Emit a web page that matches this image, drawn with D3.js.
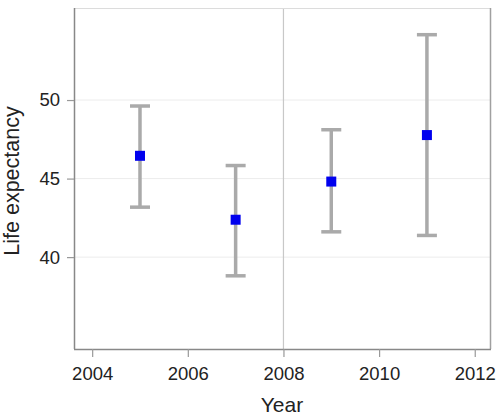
<!DOCTYPE html>
<html>
<head>
<meta charset="utf-8">
<script src="https://cdn.jsdelivr.net/npm/d3@7"></script>
<style>
  body { margin: 0; background: #fff; }
  text { font-family: "Liberation Sans", Arial, sans-serif; fill: #222; }
</style>
</head>
<body>
<div id="chart"></div>
<script>
// data
var years = [2005, 2007, 2009, 2011];
var means = [46.45, 42.38, 44.81, 47.77];
var lower = [43.18, 38.81, 41.61, 41.38];
var upper = [49.62, 45.83, 48.11, 54.16];
var xTicks = [2004, 2006, 2008, 2010, 2012];
var yTicks = [40, 45, 50];
var refYear = 2008;

var data = years.map(function(d, i) {
  return {year: d, mean: means[i], lo: lower[i], hi: upper[i]};
});

// set the dimensions of the canvas
var margin = {top: 8, right: 5, bottom: 67, left: 74},
    width = 496 - margin.left - margin.right,
    height = 416 - margin.top - margin.bottom;

var x = d3.scaleLinear().domain([2003.62, 2012.34]).range([0, width]);
var y = d3.scaleLinear().domain([34.15, 55.86]).range([height, 0]);

var svg = d3.select("#chart")
            .append("svg")
            .attr("width", 496)
            .attr("height", 416)
            .append("g")
            .attr("transform", "translate(" + margin.left + "," + margin.top + ")");

// faint horizontal grid
svg.selectAll(".grid")
   .data(yTicks)
   .enter()
   .append("line")
   .attr("x1", 0).attr("x2", width)
   .attr("y1", function(d) { return y(d); })
   .attr("y2", function(d) { return y(d); })
   .attr("stroke", "#ececec")
   .attr("stroke-width", 1);

// reference line at 2008
svg.append("line")
   .attr("x1", x(refYear)).attr("x2", x(refYear))
   .attr("y1", 0).attr("y2", height)
   .attr("stroke", "#c8c8c8")
   .attr("stroke-width", 1.2);

// frame: top and right
svg.append("line")
   .attr("x1", 0).attr("x2", width).attr("y1", 0.5).attr("y2", 0.5)
   .attr("stroke", "#dcdcdc");
svg.append("line")
   .attr("x1", width - 0.5).attr("x2", width - 0.5).attr("y1", 0).attr("y2", height)
   .attr("stroke", "#a0a0a0").attr("stroke-width", 1.5);

// x axis
var xAxis = svg.append("g")
   .attr("transform", "translate(0," + height + ")")
   .call(d3.axisBottom(x).tickValues(xTicks).tickFormat(d3.format("d")).tickSize(8).tickPadding(10));

// y axis
var yAxis = svg.append("g")
   .call(d3.axisLeft(y).tickValues(yTicks).tickSize(7).tickPadding(7));

[xAxis, yAxis].forEach(function(a) {
  a.select(".domain").attr("stroke", "#888").attr("stroke-width", 1.5);
  a.selectAll(".tick line").attr("stroke", "#999").attr("stroke-width", 1.2);
  a.selectAll(".tick text")
   .style("font-family", "'Liberation Sans', Arial, sans-serif")
   .style("font-size", "18.5px")
   .attr("fill", "#222");
});
xAxis.select(".domain").attr("d", "M0,0.5H" + width);
yAxis.select(".domain").attr("d", "M0.5,0V" + height);

// error bars
var capW = 10;
var bars = svg.selectAll(".err")
   .data(data)
   .enter()
   .append("g")
   .attr("class", "err")
   .attr("stroke", "#aaaaaa")
   .attr("stroke-width", 3.5);

bars.append("line")
    .attr("x1", function(d) { return x(d.year); })
    .attr("x2", function(d) { return x(d.year); })
    .attr("y1", function(d) { return y(d.lo); })
    .attr("y2", function(d) { return y(d.hi); });
bars.append("line")
    .attr("x1", function(d) { return x(d.year) - capW; })
    .attr("x2", function(d) { return x(d.year) + capW; })
    .attr("y1", function(d) { return y(d.hi); })
    .attr("y2", function(d) { return y(d.hi); });
bars.append("line")
    .attr("x1", function(d) { return x(d.year) - capW; })
    .attr("x2", function(d) { return x(d.year) + capW; })
    .attr("y1", function(d) { return y(d.lo); })
    .attr("y2", function(d) { return y(d.lo); });

// points
var sq = 10;
svg.selectAll(".pt")
   .data(data)
   .enter()
   .append("rect")
   .attr("class", "pt")
   .attr("x", function(d) { return x(d.year) - sq / 2; })
   .attr("y", function(d) { return y(d.mean) - sq / 2; })
   .attr("width", sq)
   .attr("height", sq)
   .attr("fill", "#0000ee");

// axis titles
svg.append("text")
   .attr("x", 282 - margin.left)
   .attr("y", 412 - margin.top)
   .attr("text-anchor", "middle")
   .style("font-size", "21px")
   .text("Year");

svg.append("text")
   .attr("transform", "translate(" + (18.5 - margin.left) + "," + (181 - margin.top) + ") rotate(-90)")
   .attr("text-anchor", "middle")
   .style("font-size", "21.5px")
   .text("Life expectancy");
</script>
</body>
</html>
